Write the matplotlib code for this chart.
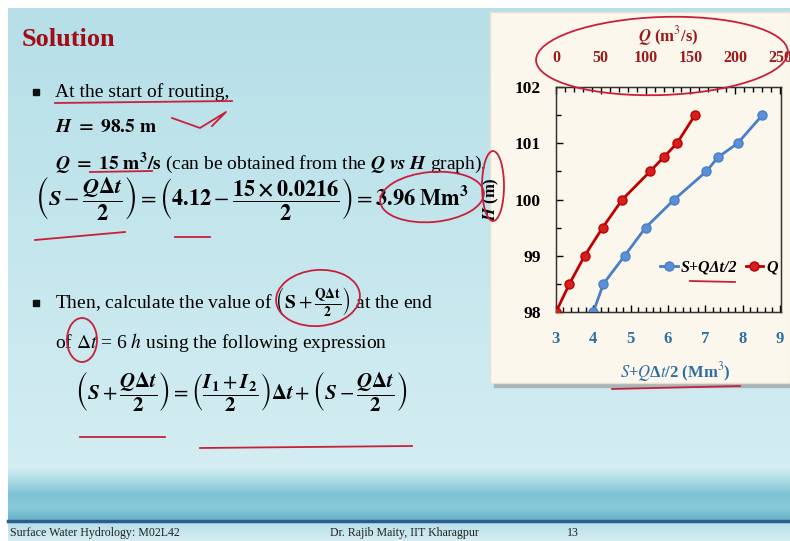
import numpy as np
import matplotlib
matplotlib.use("Agg")
import matplotlib.pyplot as plt
from matplotlib.patches import Rectangle, Ellipse
from matplotlib.ticker import MultipleLocator

plt.rcParams['font.family'] = ['Liberation Serif', 'DejaVu Sans']
plt.rcParams['mathtext.fontset'] = 'stix'

# ---------------- data ----------------
H = [98.0, 98.5, 99.0, 99.5, 100.0, 100.5, 100.75, 101.0, 101.5]     # m
S_plus = [4.0, 4.27, 4.84, 5.40, 6.17, 7.03, 7.34, 7.87, 8.53]      # Mm^3
Q = [0, 15, 32, 52, 74, 105, 120, 135, 155]                          # m^3/s

x_ticks = [3, 4, 5, 6, 7, 8, 9]
q_ticks = [0, 50, 100, 150, 200, 250]
h_ticks = [98, 99, 100, 101, 102]

RED = '#c00000'
BLUE = '#4a7ec6'
PEN = '#c8203a'

W, Hpx = 790, 541
fig = plt.figure(figsize=(W / 100, Hpx / 100), dpi=100)

# ---------------- slide background (pixel coords) ----------------
bg = fig.add_axes([0, 0, 1, 1])
bg.set_xlim(0, W)
bg.set_ylim(Hpx, 0)
bg.axis('off')
bg.add_patch(Rectangle((0, 0), W, Hpx, color='white', zorder=0))

grad = np.linspace(0, 1, 100).reshape(-1, 1)
cmap_slide = matplotlib.colors.LinearSegmentedColormap.from_list('s', ['#b6dfe8', '#d3edf2'])
bg.imshow(grad, extent=(8, W, 468, 8), cmap=cmap_slide, aspect='auto', zorder=1)
cmap_wave = matplotlib.colors.LinearSegmentedColormap.from_list(
    'w', ['#d3edf2', '#a9d9e4', '#7cc3d4', '#8acbd9', '#66b3c7'])
bg.imshow(grad, extent=(8, W, 520, 468), cmap=cmap_wave, aspect='auto', zorder=1)
cmap_foot = matplotlib.colors.LinearSegmentedColormap.from_list('f', ['#b4dde7', '#d6eef3'])
bg.imshow(grad, extent=(8, W, Hpx, 521), cmap=cmap_foot, aspect='auto', zorder=1)
bg.plot([8, W], [521, 521], color='#2d5d8e', lw=2.5, zorder=2)

# chart panel with shadow
bg.add_patch(Rectangle((494, 16), 300, 371, color='#a9b4b6', zorder=2))
bg.add_patch(Rectangle((490, 12), 300, 371, facecolor='#fbf7ec',
                       edgecolor='#e6e0d2', lw=1, zorder=3))

# ---------------- left text ----------------
bg.text(22, 40, 'Solution', fontsize=19, fontweight='bold', color='#a10d16',
        va='center', zorder=5)

def bullet(y):
    bg.add_patch(Rectangle((33, y - 3), 5.5, 5.5, color='#111111', zorder=5))

fs = 14
bullet(92)
bg.text(55, 92, 'At the start of routing,', fontsize=fs, va='center', zorder=5)
bg.text(55, 127, r'$\mathbfit{H}$' + r'$\mathbf{\ =\ 98.5\ m}$', fontsize=fs, va='center', zorder=5)
bg.text(55, 163, r'$\mathbfit{Q}\mathbf{\ =\ 15\ m^{3}/s}$ (can be obtained from the '
        r'$\mathbfit{Q\ vs\ H}$ graph).', fontsize=fs, va='center', zorder=5)

eq1 = (r'$\left(\mathbfit{S}-\dfrac{\mathbfit{Q}\mathbf{\Delta}\mathbfit{t}}{\mathbf{2}}\right)'
       r'=\left(\mathbf{4.12}-\dfrac{\mathbf{15\times0.0216}}{\mathbf{2}}\right)'
       r'=\mathbf{3.96\ Mm^{3}}$')
bg.text(35, 198, eq1, fontsize=16, va='center', zorder=5)

bullet(303)
bg.text(55, 302, r'Then, calculate the value of '
        r'$\left(\mathbf{S}+\frac{\mathbf{Q\Delta t}}{\mathbf{2}}\right)$ at the end',
        fontsize=fs, va='center', zorder=5)
bg.text(55, 342, r'of $\mathit{\Delta t}$ = 6 $\mathit{h}$ using the following expression',
        fontsize=fs, va='center', zorder=5)

eq2 = (r'$\left(\mathbfit{S}+\dfrac{\mathbfit{Q}\mathbf{\Delta}\mathbfit{t}}{\mathbf{2}}\right)'
       r'=\left(\dfrac{\mathbfit{I}_{\mathbf{1}}+\mathbfit{I}_{\mathbf{2}}}{\mathbf{2}}\right)'
       r'\mathbf{\Delta}\mathbfit{t}+'
       r'\left(\mathbfit{S}-\dfrac{\mathbfit{Q}\mathbf{\Delta}\mathbfit{t}}{\mathbf{2}}\right)$')
bg.text(75, 392, eq2, fontsize=15, va='center', zorder=5)

# footer
bg.text(10, 533, 'Surface Water Hydrology: M02L42', fontsize=8.6, va='center', zorder=5, color='#222222')
bg.text(330, 533, 'Dr. Rajib Maity, IIT Kharagpur', fontsize=8.6, va='center', zorder=5, color='#222222')
bg.text(567, 533, '13', fontsize=8.6, va='center', zorder=5, color='#222222')

# ---------------- chart ----------------
ax = fig.add_axes([556 / W, 1 - 312 / Hpx, 225 / W, 225 / Hpx])
ax.set_facecolor('none')
ax.plot(S_plus, H, color=BLUE, lw=2, marker='o', ms=6.5, mfc='#5b8fd8', mec=BLUE,
        label='S+QΔt/2', zorder=4)
ax.set_xlim(3, 9.03)
ax.set_ylim(98, 102)
ax.set_xticks(x_ticks)
ax.set_yticks(h_ticks)
ax.xaxis.set_minor_locator(MultipleLocator(0.2))
ax.yaxis.set_minor_locator(MultipleLocator(0.5))
ax.tick_params(which='both', direction='in', top=False, right=False)
ax.tick_params(which='major', length=5, width=1)
ax.tick_params(which='minor', length=3.5, width=1)
ax.tick_params(axis='x', pad=14, labelsize=12, labelcolor='#2e6ea2')
ax.tick_params(axis='y', pad=11, labelsize=12.5)
for t in ax.get_xticklabels() + ax.get_yticklabels():
    t.set_fontweight('bold')
for s in ax.spines.values():
    s.set_color('#333333')
    s.set_linewidth(1)
ax.set_xlabel(r'$\it{S}$+$\it{Q}$Δ$\it{t}$/2 (Mm$^3$)', fontsize=12, fontweight='bold',
              color='#2e6ea2')
ax.xaxis.set_label_coords(0.53, -0.215)
ax.set_ylabel(r'$\mathbfit{H}$ (m)', fontsize=12, fontweight='bold', labelpad=10)

axt = ax.twiny()
axt.plot(Q, H, color=RED, lw=2, marker='o', ms=6.5, mfc='#d42020', mec=RED,
         label='Q', zorder=4)
axt.set_xlim(0, 251)
axt.set_xticks(q_ticks)
axt.xaxis.set_minor_locator(MultipleLocator(10))
axt.tick_params(which='both', direction='in')
axt.tick_params(which='major', length=5, width=1)
axt.tick_params(which='minor', length=3.5, width=1)
axt.tick_params(axis='x', pad=15, labelsize=11.5, labelcolor='#9b1b1b')
for t in axt.get_xticklabels():
    t.set_fontweight('bold')
axt.set_xlabel(r'$\mathbfit{Q}$ (m$^3$/s)', fontsize=12, fontweight='bold',
               color='#9b1b1b', labelpad=6)
for s in axt.spines.values():
    s.set_color('#333333')

h1, l1 = ax.get_legend_handles_labels()
h2, l2 = axt.get_legend_handles_labels()
axt.legend(h1 + h2, l1 + l2, loc='lower right', bbox_to_anchor=(1.05, 0.10), ncol=2,
           frameon=False, handlelength=1.1, handletextpad=0.2, columnspacing=0.5,
           prop={'family': 'Liberation Serif', 'style': 'italic', 'weight': 'bold', 'size': 11.5})

# ---------------- pen annotations ----------------
ov = fig.add_axes([0, 0, 1, 1])
ov.set_xlim(0, W)
ov.set_ylim(Hpx, 0)
ov.axis('off')
ov.patch.set_alpha(0)
pen = dict(fill=False, edgecolor=PEN, lw=1.3)
ov.add_patch(Ellipse((662, 56), 252, 78, angle=-2, **pen))
ov.add_patch(Ellipse((493, 186), 22, 70, **pen))
ov.add_patch(Ellipse((432, 197), 104, 50, angle=-5, **pen))
ov.add_patch(Ellipse((318, 298), 84, 56, angle=-5, **pen))
ov.add_patch(Ellipse((82, 340), 30, 44, **pen))
for xs, ys in [([55, 232], [103, 101]), ([90, 152], [172, 171]), ([35, 125], [240, 232]),
               ([175, 210], [237, 237]), ([80, 165], [437, 437]), ([200, 412], [448, 446]),
               ([690, 735], [281, 282]), ([612, 740], [389, 386]),
               ([172, 200, 226, 212], [118, 128, 112, 126])]:
    ov.plot(xs, ys, color=PEN, lw=1.3)

fig.savefig('out.png', dpi=100)
